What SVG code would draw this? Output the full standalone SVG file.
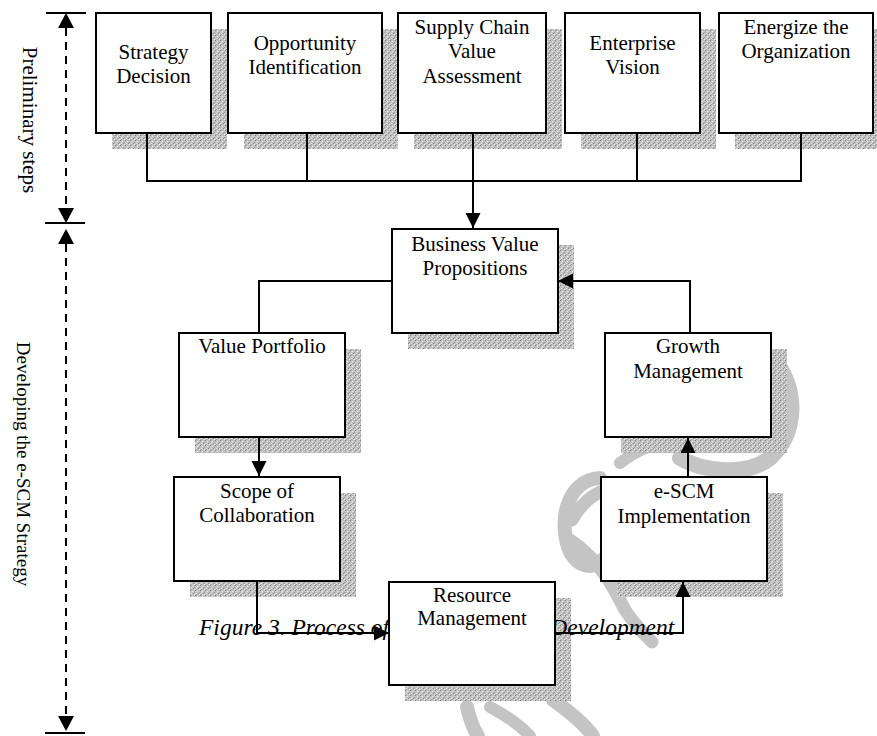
<svg xmlns="http://www.w3.org/2000/svg" width="877" height="736" viewBox="0 0 877 736">
<defs>
<pattern id="stip" width="5" height="5" patternUnits="userSpaceOnUse">
<rect width="5" height="5" fill="#c2c2c2"/>
<rect x="0" y="0" width="1" height="1" fill="#7c7c7c"/>
<rect x="2" y="1" width="1" height="1" fill="#ececec"/>
<rect x="3" y="3" width="1" height="1" fill="#8a8a8a"/>
<rect x="1" y="3" width="1" height="1" fill="#e8e8e8"/>
<rect x="4" y="2" width="1" height="1" fill="#9a9a9a"/>
<rect x="1" y="4" width="1" height="1" fill="#a0a0a0"/>
<rect x="4" y="4" width="1" height="1" fill="#f0f0f0"/>
</pattern>
<marker id="ah" markerUnits="userSpaceOnUse" markerWidth="16" markerHeight="16" refX="15" refY="7.5" orient="auto">
<path d="M0,0 L15,7.5 L0,15 z" fill="#000"/>
</marker>
</defs>
<style>
.box{fill:#fff;stroke:#000;stroke-width:2}
.sh{fill:url(#stip)}
.t{font-family:"Liberation Serif","Times New Roman",serif;font-size:21px;fill:#000;text-anchor:middle}
.ln{fill:none;stroke:#000;stroke-width:2}
.arr{fill:none;stroke:#000;stroke-width:2;marker-end:url(#ah)}
.dash{fill:none;stroke:#000;stroke-width:2;stroke-dasharray:8,6}
.wm{fill:none;stroke:#c4c4c4;stroke-linecap:round}
.cap{font-family:"Liberation Serif","Times New Roman",serif;font-size:23.5px;font-style:italic;fill:#000}
</style>
<rect width="877" height="736" fill="#fff"/>

<g id="watermark">
<path class="wm" stroke-width="16" d="M775,360 C800,395 795,435 770,458 C745,478 700,470 680,458"/>
<path class="wm" stroke-width="12" d="M620,463 C630,455 640,450 650,446"/>
<path class="wm" stroke-width="13" d="M572,520 C580,505 590,497 600,492"/>
<path class="wm" stroke-width="14" d="M600,478 C565,480 558,525 570,552 C580,570 598,568 602,560"/>
<path class="wm" stroke-width="13" d="M570,540 C600,560 615,590 625,610 C635,625 645,635 652,642"/>
<path class="wm" stroke-width="14" d="M467,707 C470,720 474,730 478,736"/>
<path class="wm" stroke-width="12" d="M490,707 C505,715 520,725 530,736"/>
<path class="wm" stroke-width="14" d="M553,700 C570,712 585,725 593,736"/>
</g>

<g id="dimensions">
<line class="ln" x1="46" y1="13" x2="86" y2="13"/>
<line class="ln" x1="45" y1="223" x2="85" y2="223"/>
<line class="ln" x1="45" y1="733" x2="85" y2="733"/>
<line class="dash" x1="66" y1="28" x2="66" y2="208"/>
<path d="M66,13 L58,28 L74,28 z"/>
<path d="M66,223 L58,208 L74,208 z"/>
<line class="dash" x1="66" y1="244" x2="66" y2="716"/>
<path d="M66,229 L58,244 L74,244 z"/>
<path d="M66,731 L58,716 L74,716 z"/>
<text class="t" transform="translate(23,120) rotate(90)">Preliminary steps</text>
<text class="t" style="font-size:19px" transform="translate(17,464) rotate(90)">Developing the e-SCM Strategy</text>
</g>

<g id="shadows">
<rect class="sh" x="112" y="29" width="115" height="120"/>
<rect class="sh" x="244" y="29" width="154" height="120"/>
<rect class="sh" x="414" y="29" width="148" height="120"/>
<rect class="sh" x="581" y="29" width="135" height="120"/>
<rect class="sh" x="735" y="29" width="154" height="120"/>
<rect class="sh" x="408" y="245" width="166" height="104"/>
<rect class="sh" x="195" y="349" width="166" height="104"/>
<rect class="sh" x="621" y="349" width="166" height="104"/>
<rect class="sh" x="190" y="493" width="166" height="104"/>
<rect class="sh" x="617" y="493" width="166" height="104"/>
<rect class="sh" x="405" y="598" width="166" height="103"/>
</g>

<text id="caption" class="cap" x="199" y="635">Figure 3. Process of e-SCM Strategy Development</text>

<g id="n-strategy"><rect class="box" x="96" y="13" width="115" height="120"/>
<text class="t" x="153.5" y="59">Strategy</text><text class="t" x="153.5" y="83">Decision</text></g>
<g id="n-opportunity"><rect class="box" x="228" y="13" width="154" height="120"/>
<text class="t" x="305" y="50">Opportunity</text><text class="t" x="305" y="74">Identification</text></g>
<g id="n-supply"><rect class="box" x="398" y="13" width="148" height="120"/>
<text class="t" x="472" y="34">Supply Chain</text><text class="t" x="472" y="58">Value</text><text class="t" x="472" y="83">Assessment</text></g>
<g id="n-vision"><rect class="box" x="565" y="13" width="135" height="120"/>
<text class="t" x="632.5" y="50">Enterprise</text><text class="t" x="632.5" y="74">Vision</text></g>
<g id="n-energize"><rect class="box" x="719" y="13" width="154" height="120"/>
<text class="t" x="796" y="34">Energize the</text><text class="t" x="796" y="58">Organization</text></g>

<g id="n-bvp"><rect class="box" x="392" y="229" width="166" height="104"/>
<text class="t" x="475" y="251">Business Value</text><text class="t" x="475" y="275">Propositions</text></g>
<g id="n-portfolio"><rect class="box" x="179" y="333" width="166" height="104"/>
<text class="t" x="262" y="353">Value Portfolio</text></g>
<g id="n-growth"><rect class="box" x="605" y="333" width="166" height="104"/>
<text class="t" x="688" y="353">Growth</text><text class="t" x="688" y="378">Management</text></g>
<g id="n-scope"><rect class="box" x="174" y="477" width="166" height="104"/>
<text class="t" x="257" y="498">Scope of</text><text class="t" x="257" y="522">Collaboration</text></g>
<g id="n-escm"><rect class="box" x="601" y="477" width="166" height="104"/>
<text class="t" x="684" y="498">e-SCM</text><text class="t" x="684" y="523">Implementation</text></g>
<g id="n-resource"><rect class="box" x="389" y="582" width="166" height="103"/>
<text class="t" x="472" y="602">Resource</text><text class="t" x="472" y="625">Management</text></g>

<g id="connectors">
<path class="ln" d="M147,133 V181 H801 V133"/>
<path class="ln" d="M307,133 V181"/>
<path class="ln" d="M637,133 V181"/>
<path class="ln" d="M473,133 V181"/>
<path class="arr" d="M473,181 V228"/>
<path class="ln" d="M392,281 H259 V333"/>
<path class="arr" d="M690,333 V281 H558"/>
<path class="arr" d="M259,437 V476"/>
<path class="arr" d="M257,581 V633 H389"/>
<path class="arr" d="M555,633 H683 V582"/>
<path class="arr" d="M688,477 V438"/>
</g>
</svg>
